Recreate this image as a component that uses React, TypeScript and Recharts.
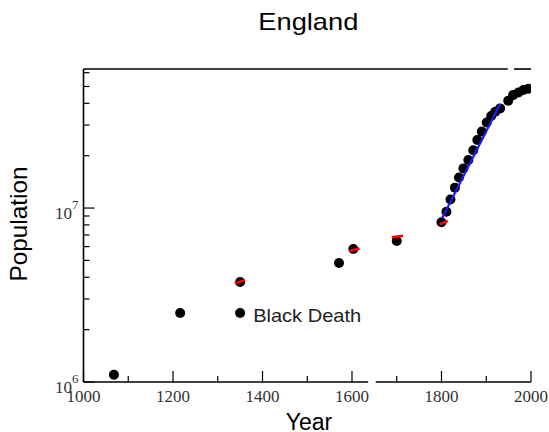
import { ComposedChart, Scatter, XAxis, YAxis, ReferenceLine } from 'recharts';

// Dados (ano, população)
const earlyYears = [1068, 1216, 1350, 1571, 1603, 1700];
const earlyPop = [1.1e6, 2.49e6, 3.76e6, 4.83e6, 5.81e6, 6.46e6];

const blackDeathYears = [1350];
const blackDeathPop = [2.49e6];

const censusYears = [1800, 1811, 1820, 1830, 1839, 1849, 1860, 1871, 1880, 1890, 1901, 1911, 1920, 1931, 1949, 1960, 1972, 1983, 1994];
const censusPop = [8.28e6, 9.53e6, 1.12e7, 1.31e7, 1.5e7, 1.69e7, 1.89e7, 2.15e7, 2.46e7, 2.75e7, 3.1e7, 3.38e7, 3.58e7, 3.74e7, 4.14e7, 4.46e7, 4.62e7, 4.77e7, 4.85e7];

// reta de ajuste exponencial (azul)
const fitYears = [1801, 1931];
const fitPop = [8.7e6, 3.96e7];

// pequenos traços vermelhos sobre alguns pontos
const redYears = [[1338, 1361], [1594, 1617], [1689, 1714], [1796, 1814]];
const redPop = [[3.69e6, 3.85e6], [5.66e6, 5.85e6], [6.79e6, 6.93e6], [8.08e6, 8.42e6]];

const xTicks = [1000, 1100, 1200, 1300, 1400, 1500, 1600, 1700, 1800, 1900, 2000];
const yTicks = [1e6, 2e6, 3e6, 4e6, 5e6, 6e6, 7e6, 8e6, 9e6, 1e7, 2e7, 3e7, 4e7, 5e7, 6e7];

const X_DOMAIN = [1000, 2000];
const Y_DOMAIN = [1e6, 6.3e7];

const toRows = (xs: number[], ys: number[]) => xs.map((year, i) => ({ year, pop: ys[i] }));

const early = toRows(earlyYears, earlyPop);
const blackDeath = toRows(blackDeathYears, blackDeathPop);
const census = toRows(censusYears, censusPop);
const fit = toRows(fitYears, fitPop);

const SERIF = '"Liberation Serif", "Times New Roman", serif';
const SANS = '"Liberation Sans", Arial, sans-serif';

const BottomTick = (props: any) => {
  const { x, y, payload } = props;
  const major = payload.value % 200 === 0;
  return (
    <g>
      <line x1={x} x2={x} y1={y} y2={y - (major ? 11 : 6)} stroke="#000" strokeWidth={1.2} />
      {major && (
        <text x={x} y={y + 20} textAnchor="middle" fontFamily={SERIF} fontSize={17} fill="#333">
          {payload.value}
        </text>
      )}
    </g>
  );
};

const TopTick = (props: any) => {
  const { x, y } = props;
  return <line x1={x} x2={x} y1={y} y2={y + 6} stroke="#000" strokeWidth={1.2} />;
};

const isDecade = (v: number) => Math.abs(Math.log10(v) - Math.round(Math.log10(v))) < 1e-6;

const LeftTick = (props: any) => {
  const { x, y, payload } = props;
  const major = isDecade(payload.value);
  return (
    <g>
      <line x1={x} x2={x + (major ? 11 : 6)} y1={y} y2={y} stroke="#000" strokeWidth={1.2} />
      {major && (
        <text x={x - 5} y={y + 11} textAnchor="end" fontFamily={SERIF} fontSize={17} fill="#333">
          10
          <tspan dy={-10.5} fontSize={13}>{Math.round(Math.log10(payload.value))}</tspan>
        </text>
      )}
    </g>
  );
};

const RightTick = (props: any) => {
  const { x, y, payload } = props;
  const major = isDecade(payload.value);
  return <line x1={x} x2={x - (major ? 11 : 6)} y1={y} y2={y} stroke="#000" strokeWidth={1.2} />;
};

const Dot = (props: any) => <circle cx={props.cx} cy={props.cy} r={5} fill="#000" />;
const NoDot = () => <g />;

const BlackDeathDot = (props: any) => (
  <g>
    <circle cx={props.cx} cy={props.cy} r={5} fill="#000" />
    <text x={props.cx + 13} y={props.cy + 9} fontFamily={SANS} fontSize={19} textLength={108} lengthAdjust="spacingAndGlyphs" fill="#222">
      Black Death
    </text>
  </g>
);

const frame = { stroke: '#000', strokeWidth: 1.6 };

export default function App() {
  return (
    <div style={{ position: 'absolute', left: 0, top: 0, width: 549, height: 432, background: '#fff' }}>
      <ComposedChart width={549} height={432} margin={{ top: 69, right: 18, bottom: 20, left: 23.5 }}>
        <XAxis
          xAxisId={0}
          dataKey="year"
          type="number"
          domain={X_DOMAIN}
          allowDataOverflow
          ticks={xTicks}
          interval={0}
          tickSize={0}
          tickMargin={0}
          tickLine={false}
          axisLine={false}
          tick={<BottomTick />}
          height={30}
        />
        <XAxis
          xAxisId="top"
          orientation="top"
          dataKey="year"
          type="number"
          domain={X_DOMAIN}
          allowDataOverflow
          ticks={xTicks}
          interval={0}
          tickSize={0}
          tickMargin={0}
          tickLine={false}
          axisLine={false}
          tick={<TopTick />}
          height={0}
        />
        <YAxis
          yAxisId={0}
          dataKey="pop"
          type="number"
          scale="log"
          domain={Y_DOMAIN}
          allowDataOverflow
          ticks={yTicks}
          interval={0}
          tickSize={0}
          tickMargin={0}
          tickLine={false}
          axisLine={frame}
          tick={<LeftTick />}
          width={60}
        />
        <YAxis
          yAxisId="right"
          orientation="right"
          dataKey="pop"
          type="number"
          scale="log"
          domain={Y_DOMAIN}
          allowDataOverflow
          ticks={yTicks}
          interval={0}
          tickSize={0}
          tickMargin={0}
          tickLine={false}
          axisLine={frame}
          tick={<RightTick />}
          width={0}
        />

        {/* eixo inferior e superior com as pequenas quebras da figura */}
        <ReferenceLine segment={[{ x: 1000, y: Y_DOMAIN[0] }, { x: 1636, y: Y_DOMAIN[0] }]} {...frame} ifOverflow="visible" />
        <ReferenceLine segment={[{ x: 1653, y: Y_DOMAIN[0] }, { x: 2000, y: Y_DOMAIN[0] }]} {...frame} ifOverflow="visible" />
        <ReferenceLine segment={[{ x: 1000, y: Y_DOMAIN[1] }, { x: 1948, y: Y_DOMAIN[1] }]} {...frame} ifOverflow="visible" />
        <ReferenceLine segment={[{ x: 1962, y: Y_DOMAIN[1] }, { x: 2000, y: Y_DOMAIN[1] }]} {...frame} ifOverflow="visible" />

        <Scatter data={early} dataKey="pop" shape={<Dot />} isAnimationActive={false} />
        <Scatter data={census} dataKey="pop" shape={<Dot />} isAnimationActive={false} />
        <Scatter data={blackDeath} dataKey="pop" shape={<BlackDeathDot />} isAnimationActive={false} />

        {/* linhas desenhadas como Scatter com "line" para ficarem por cima dos pontos */}
        {redYears.map((ys, i) => (
          <Scatter
            key={`red-${i}`}
            data={toRows(ys, redPop[i])}
            dataKey="pop"
            line={{ stroke: '#ff0000', strokeWidth: 2.5 }}
            shape={<NoDot />}
            isAnimationActive={false}
          />
        ))}
        <Scatter
          data={fit}
          dataKey="pop"
          line={{ stroke: '#1a1aff', strokeWidth: 2.2 }}
          shape={<NoDot />}
          isAnimationActive={false}
        />
      </ComposedChart>

      <svg width={549} height={432} style={{ position: 'absolute', left: 0, top: 0, pointerEvents: 'none' }}>
        <text x={258.3} y={30} fontFamily={SANS} fontSize={24} textLength={100} lengthAdjust="spacingAndGlyphs" fill="#000">
          England
        </text>
        <text x={309} y={430} textAnchor="middle" fontFamily={SANS} fontSize={23} fill="#000">
          Year
        </text>
        <text
          x={27}
          y={224}
          textAnchor="middle"
          transform="rotate(-90, 27, 224)"
          fontFamily={SANS}
          fontSize={24}
          textLength={115}
          lengthAdjust="spacingAndGlyphs"
          fill="#000"
        >
          Population
        </text>
      </svg>
    </div>
  );
}
